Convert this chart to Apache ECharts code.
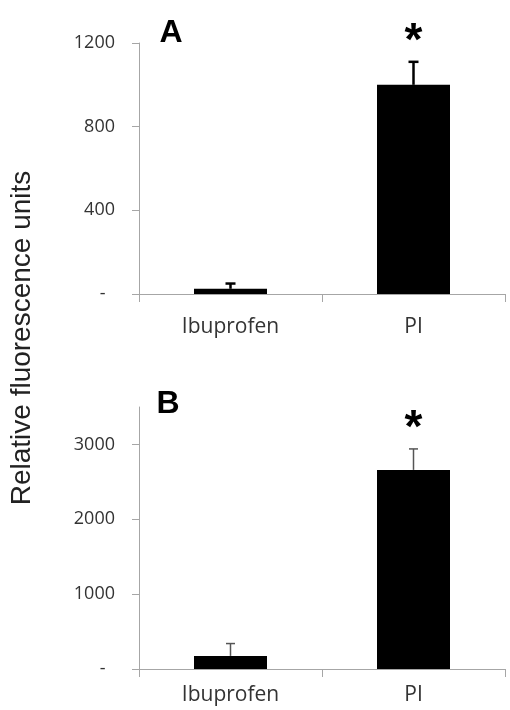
<!DOCTYPE html>
<html>
<head>
<meta charset="utf-8">
<script src="https://cdn.jsdelivr.net/npm/echarts@6/dist/echarts.min.js"></script>
<style>
  html, body { margin: 0; padding: 0; background: #fff; }
  #chart { width: 510px; height: 710px; }
</style>
</head>
<body>
<div id="chart"></div>
<script>
// data
var categories = ['Ibuprofen', 'PI'];
var valuesA = [25, 1000];
var errorsA = [25, 110];
var valuesB = [175, 2660];
var errorsB = [165, 280];
var markers = ['', '*'];
var ticksA = [0, 400, 800, 1200];
var ticksB = [0, 1000, 2000, 3000];

var axisGray = '#a6a6a6';

function yLabel(v) {
  return v === 0 ? '-  ' : String(v);
}

function errorSeries(idx, vals, errs, color, width, capW) {
  return {
    type: 'custom',
    xAxisIndex: idx,
    yAxisIndex: idx,
    z: 5,
    encode: { x: 0, y: [1, 2] },
    data: vals.map(function (v, i) { return [i, v, v + errs[i]]; }),
    renderItem: function (params, api) {
      var base = api.coord([api.value(0), api.value(1)]);
      var top = api.coord([api.value(0), api.value(2)]);
      var children = [
        { type: 'line', shape: { x1: base[0], y1: base[1], x2: top[0], y2: top[1] },
          style: { stroke: color, lineWidth: width } },
        { type: 'line', shape: { x1: top[0] - capW / 2, y1: top[1], x2: top[0] + capW / 2, y2: top[1] },
          style: { stroke: color, lineWidth: width } }
      ];
      var mark = markers[params.dataIndex];
      if (mark) {
        children.push({
          type: 'text',
          style: {
            text: mark, x: top[0], y: top[1] - 20,
            fill: '#000', fontSize: 46, fontWeight: 'bold',
            fontFamily: 'Liberation Sans', align: 'center', verticalAlign: 'middle'
          }
        });
      }
      return { type: 'group', children: children };
    }
  };
}

function xAxis(idx, margin) {
  return {
    gridIndex: idx,
    type: 'category',
    data: categories,
    axisLine: { lineStyle: { color: axisGray, width: 1 } },
    axisTick: { show: true, length: 8, lineStyle: { color: axisGray } },
    axisLabel: { color: '#333', fontSize: 21, fontFamily: 'Open Sans', margin: margin }
  };
}

function yAxis(idx, max, ticks) {
  return {
    gridIndex: idx,
    type: 'value',
    min: 0,
    max: max,
    axisLine: { show: true, lineStyle: { color: axisGray, width: 1 } },
    axisTick: { show: true, length: 7, lineStyle: { color: axisGray }, customValues: ticks },
    axisLabel: { customValues: ticks, formatter: yLabel, color: '#333', fontSize: 18,
                 fontFamily: 'Open Sans', margin: 24 },
    splitLine: { show: false }
  };
}

var chart = echarts.init(document.getElementById('chart'));
chart.setOption({
  animation: false,
  backgroundColor: '#fff',
  grid: [
    { left: 139, right: 5, top: 43, height: 251 },
    { left: 139, right: 5, top: 407, height: 262 }
  ],
  xAxis: [xAxis(0, 23), xAxis(1, 16)],
  yAxis: [yAxis(0, 1200, ticksA), yAxis(1, 3500, ticksB)],
  graphic: [
    { type: 'text', x: 22, y: 338, rotation: Math.PI / 2,
      style: { text: 'Relative fluorescence units', fontSize: 28, fontFamily: 'Liberation Sans',
               fill: '#222', align: 'center', verticalAlign: 'middle' } },
    { type: 'text', x: 171, y: 33,
      style: { text: 'A', fontSize: 32, fontWeight: 'bold', fontFamily: 'Liberation Sans',
               fill: '#000', align: 'center', verticalAlign: 'middle' } },
    { type: 'text', x: 168, y: 404,
      style: { text: 'B', fontSize: 32, fontWeight: 'bold', fontFamily: 'Liberation Sans',
               fill: '#000', align: 'center', verticalAlign: 'middle' } }
  ],
  series: [
    { type: 'bar', xAxisIndex: 0, yAxisIndex: 0, data: valuesA, barWidth: 73,
      itemStyle: { color: '#000' } },
    { type: 'bar', xAxisIndex: 1, yAxisIndex: 1, data: valuesB, barWidth: 73,
      itemStyle: { color: '#000' } },
    errorSeries(0, valuesA, errorsA, '#000', 2.5, 10),
    errorSeries(1, valuesB, errorsB, '#555', 1.5, 9)
  ]
});
</script>
</body>
</html>
